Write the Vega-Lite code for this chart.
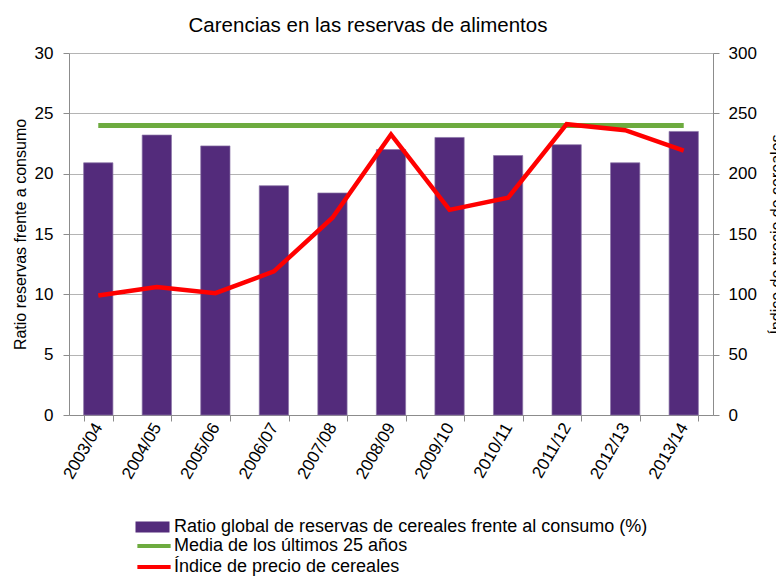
{
  "$schema": "https://vega.github.io/schema/vega-lite/v6.json",
  "autosize": {"type": "none"},
  "padding": {"left": 69, "top": 53, "right": 63, "bottom": 161},
  "width": 644,
  "height": 362,
  "title": {
    "text": "Carencias en las reservas de alimentos",
    "anchor": "middle",
    "dx": -23,
    "offset": -8,
    "baseline": "alphabetic",
    "font": "Liberation Sans",
    "fontSize": 20.5,
    "fontWeight": "normal",
    "color": "#000000"
  },
  "config": {
    "view": {"stroke": null},
    "font": "Liberation Sans",
    "axis": {
      "labelFont": "Liberation Sans",
      "labelFontSize": 17,
      "labelColor": "#000000",
      "titleFont": "Liberation Sans",
      "titleFontSize": 16,
      "titleFontWeight": "normal",
      "titleColor": "#000000",
      "domainColor": "#8c8c8c",
      "tickColor": "#8c8c8c",
      "gridColor": "#b4b4b4",
      "tickSize": 6
    },
    "legend": {
      "labelFont": "Liberation Sans",
      "labelFontSize": 18,
      "labelColor": "#000000",
      "labelLimit": 0
    }
  },
  "data": {
    "values": [
      {"year": "2003/04", "ratio": 20.9, "media": 24, "indice": 99},
      {"year": "2004/05", "ratio": 23.2, "media": 24, "indice": 106},
      {"year": "2005/06", "ratio": 22.3, "media": 24, "indice": 101},
      {"year": "2006/07", "ratio": 19.0, "media": 24, "indice": 119},
      {"year": "2007/08", "ratio": 18.4, "media": 24, "indice": 163.5},
      {"year": "2008/09", "ratio": 22.0, "media": 24, "indice": 232.5},
      {"year": "2009/10", "ratio": 23.0, "media": 24, "indice": 170},
      {"year": "2010/11", "ratio": 21.5, "media": 24, "indice": 180},
      {"year": "2011/12", "ratio": 22.4, "media": 24, "indice": 241},
      {"year": "2012/13", "ratio": 20.9, "media": 24, "indice": 236},
      {"year": "2013/14", "ratio": 23.5, "media": 24, "indice": 219}
    ]
  },
  "encoding": {
    "x": {
      "field": "year",
      "type": "nominal",
      "sort": null,
      "scale": {"paddingInner": 0.5, "paddingOuter": 0.25},
      "axis": {
        "title": null,
        "labelAngle": -60,
        "labelPadding": 3,
        "tickBand": "extent",
        "grid": false
      }
    }
  },
  "layer": [
    {
      "mark": {"type": "bar", "stroke": "#8a74a6", "strokeWidth": 0.7},
      "encoding": {
        "y": {
          "field": "ratio",
          "type": "quantitative",
          "scale": {"domain": [0, 30], "nice": false},
          "axis": {
            "title": "Ratio reservas frente a consumo",
            "values": [0, 5, 10, 15, 20, 25, 30],
            "grid": true,
            "labelPadding": 10,
            "titlePadding": 6
          }
        },
        "fill": {
          "datum": "Ratio global de reservas de cereales frente al consumo (%)",
          "scale": {
            "domain": ["Ratio global de reservas de cereales frente al consumo (%)"],
            "range": ["#532b7b"]
          },
          "legend": {
            "title": null,
            "orient": "none",
            "legendX": 66.5,
            "legendY": 457,
            "padding": 0,
            "symbolType": "M-1,-0.32H1V0.32H-1Z",
            "symbolSize": 1156,
            "symbolStrokeWidth": 0,
            "symbolOpacity": 1,
            "labelOffset": 4.5
          }
        }
      }
    },
    {
      "mark": {"type": "line", "strokeWidth": 5},
      "encoding": {
        "y": {
          "field": "media",
          "type": "quantitative",
          "scale": {"domain": [0, 30], "nice": false},
          "axis": null
        },
        "stroke": {
          "datum": "Media de los últimos 25 años",
          "scale": {
            "domain": ["Media de los últimos 25 años", "Índice de precio de cereales"],
            "range": ["#6dab3f", "#ff0000"]
          },
          "legend": {
            "title": null,
            "orient": "none",
            "legendX": 73.5,
            "legendY": 481.5,
            "padding": 0,
            "rowPadding": 0,
            "symbolType": "M-1.75,0H1.75",
            "symbolSize": 361,
            "symbolStrokeWidth": 4,
            "symbolOpacity": 1,
            "labelOffset": 8.5
          }
        }
      }
    },
    {
      "mark": {"type": "line", "strokeWidth": 4.5},
      "encoding": {
        "y": {
          "field": "indice",
          "type": "quantitative",
          "scale": {"domain": [0, 300], "nice": false},
          "axis": {
            "orient": "right",
            "title": "Índice de precio de cereales",
            "values": [0, 50, 100, 150, 200, 250, 300],
            "grid": false,
            "labelPadding": 9,
            "titlePadding": 12,
            "titleAngle": 270,
            "titleBaseline": "top"
          }
        },
        "stroke": {"datum": "Índice de precio de cereales"}
      }
    }
  ],
  "resolve": {"scale": {"y": "independent"}}
}
